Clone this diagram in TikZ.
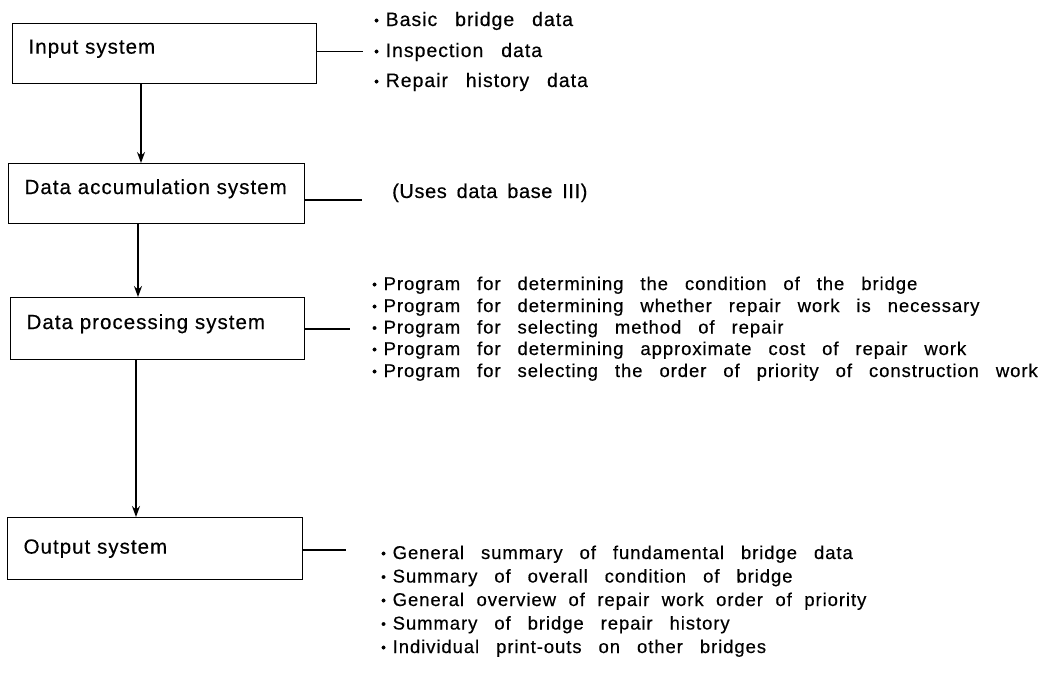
\documentclass[tikz,border=0pt]{standalone}
\usepackage{fontspec}
\setmainfont{Liberation Sans}[LetterSpace=5,WordSpace=2.8,FakeBold=0.4]
\newfontfamily\notefont{Liberation Sans}[LetterSpace=3,WordSpace=1.6,FakeBold=0.4]
\usetikzlibrary{arrows.meta}

% small raised bullet in front of list entries
\newcommand\dotmark{\makebox[11.5pt][l]{\raisebox{1pt}{\fontsize{13.5}{13.5}\selectfont •}}}

\tikzset{
  sysbox/.style={draw, line width=1.2pt, rectangle, anchor=north west,
    minimum height=60pt, inner xsep=16pt, inner ysep=0pt, align=left,
    font=\fontsize{20.5}{22}\selectfont},
  lifted/.style={text depth=14pt},
  flow/.style={line width=1.2pt, -{Stealth[length=11pt,width=8pt]}},
  link/.style={line width=1.1pt},
  item/.style={anchor=base west, inner sep=0pt, font=\fontsize{18.5}{22}\selectfont},
  bigitem/.style={item, font=\fontsize{19.5}{22}\selectfont},
}

\begin{document}
\begin{tikzpicture}[x=1pt, y=-1pt]
\useasboundingbox (0,0) rectangle (1041,699);

% the four subsystems
\node[sysbox, lifted, minimum width=304pt, text width=272pt] (inp) at (12,23) {Input system};
\node[sysbox, lifted, minimum width=296pt, text width=264pt] (acc) at (8,163) {Data accumulation system};
\node[sysbox, lifted, minimum width=294pt, text width=262pt, minimum height=62pt] (proc) at (10,297) {Data processing system};
\node[sysbox, minimum width=295pt, text width=263pt, minimum height=62pt] (outp) at (7,517) {Output system};

% downward flow between subsystems
\coordinate (c1) at (141,0);
\coordinate (c2) at (138,0);
\coordinate (c3) at (136,0);
\draw[flow] (inp.south -| c1) -- (acc.north -| c1);
\draw[flow] (acc.south -| c2) -- (proc.north -| c2);
\draw[flow] (proc.south -| c3) -- (outp.north -| c3);

% side branches to the descriptions
\coordinate (e1) at (363,51);
\coordinate (e2) at (362,200);
\coordinate (e3) at (350,329);
\coordinate (e4) at (346,550);
\draw[link, line width=0.8pt] (inp.east |- e1) -- (e1);
\draw[link] (acc.east |- e2) -- (e2);
\draw[link] (proc.east |- e3) -- (e3);
\draw[link] (outp.east |- e4) -- (e4);

% input data
\node[bigitem] (i1) at (374,26) {\dotmark Basic bridge data};
\node[bigitem] (i2) at (374,57) {\dotmark Inspection data};
\node[bigitem] (i3) at (374,87) {\dotmark Repair history data};

% data base note
\node[item, font=\notefont\fontsize{20}{22}\selectfont] (db) at (392,198) {(Uses data base III)};

% processing programs
\node[item] (p1) at (372,290) {\dotmark Program for determining the condition of the bridge};
\node[item] (p2) at (372,312) {\dotmark Program for determining whether repair work is necessary};
\node[item] (p3) at (372,333.5) {\dotmark Program for selecting method of repair};
\node[item] (p4) at (372,355) {\dotmark Program for determining approximate cost of repair work};
\node[item] (p5) at (372,377) {\dotmark Program for selecting the order of priority of construction work};

% outputs
\node[item] (o1) at (381,559) {\dotmark General summary of fundamental bridge data};
\node[item] (o2) at (381,582.5) {\dotmark Summary of overall condition of bridge};
\node[item] (o3) at (381,606) {\spaceskip=12.5pt\dotmark General overview of repair work order of priority};
\node[item] (o4) at (381,629.5) {\dotmark Summary of bridge repair history};
\node[item] (o5) at (381,653) {\dotmark Individual print-outs on other bridges};
\end{tikzpicture}
\end{document}
